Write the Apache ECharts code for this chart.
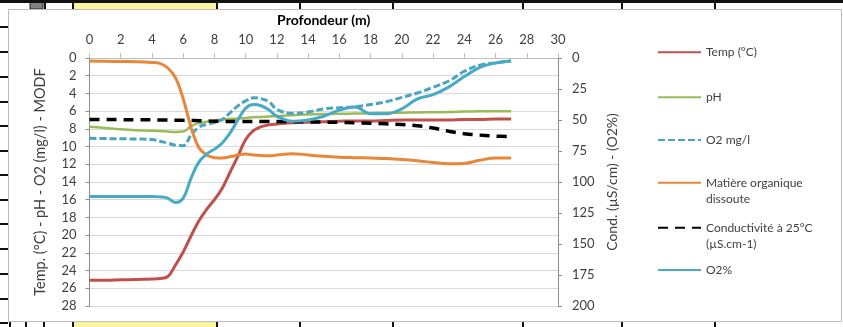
<!DOCTYPE html>
<html><head><meta charset="utf-8">
<script src="https://cdn.jsdelivr.net/npm/echarts@6/dist/echarts.min.js"></script>
<style>html,body{margin:0;padding:0;background:#fff}#c{width:843px;height:327px}</style>
</head><body><div id="c"></div>
<script>
// Depth (m) along the top axis
const depth = [0,1,2,3,4,4.5,5,5.5,6,6.5,7,7.5,8,8.5,9,9.5,10,10.5,11,11.5,12,13,14,15,16,17,18,19,20,21,22,23,24,25,26,27];
// Left axis series
const temp = [25.1,25.1,25.05,25.0,24.95,24.9,24.7,23.4,21.9,20.1,18.4,17.1,16.0,14.7,12.9,11.1,9.2,8.2,7.75,7.55,7.45,7.3,7.25,7.2,7.15,7.1,7.1,7.05,7.0,7.0,7.0,7.0,6.95,6.95,6.9,6.9];
const ph = [7.75,7.9,8.05,8.15,8.2,8.25,8.3,8.35,8.3,7.7,7.35,7.2,7.05,6.95,6.88,6.82,6.76,6.7,6.65,6.6,6.55,6.45,6.38,6.33,6.3,6.27,6.24,6.2,6.18,6.15,6.12,6.1,6.05,6.02,6.0,6.0];
const o2mg = [9.07,9.1,9.12,9.15,9.2,9.4,9.6,9.85,9.9,8.7,7.8,7.5,7.3,6.95,6.2,5.4,4.85,4.5,4.6,4.95,5.8,6.25,6.1,5.75,5.62,5.5,5.25,4.93,4.45,3.95,3.3,2.6,1.5,0.8,0.55,0.34];
const modf = [0.35,0.38,0.4,0.42,0.5,0.6,1.1,2.2,4.6,7.8,10.1,10.95,11.25,11.3,11.15,10.95,10.85,10.95,11.0,11.05,10.95,10.8,10.95,11.1,11.2,11.25,11.3,11.35,11.45,11.6,11.8,11.95,11.9,11.55,11.3,11.3];
// Right axis series
const cond = [49.5,49.6,49.7,49.8,49.9,50,50.1,50.2,50.3,50.4,50.6,50.8,51,51.1,51.2,51.3,51.3,51.3,51.3,51.3,51.3,51.4,51.5,51.7,51.9,52.2,52.6,53.1,53.7,54.6,56.5,59,61,62.2,63,63.5];
const o2pct = [111.6,111.6,111.6,111.6,111.6,112,113,116.5,113,97,84,77.5,73.5,68.5,60.5,50,40.5,37.5,38.5,42,47,51,50,47,42,39.5,45,45,41,33,29.5,23.5,15,7.5,4,2.4];

const names = ['Temp (°C)','pH','O2 mg/l','Matière organique\ndissoute','Conductivité à 25°C\n(µS.cm-1)','O2%'];
const FONT = 'Lato';
const TXT = '#404040';

function pts(v){ return depth.map((d,i)=>[d, v[i]]); }

const chart = echarts.init(document.getElementById('c'), null, {renderer:'canvas'});

const legendCenters = [52.3, 97.3, 140, 182.7, 227.7, 270];
const LH = 16.8;
const legends = names.map((n,i)=>{
  const twoLine = n.indexOf('\n') >= 0;
  return {
    data:[n], left:657, top: twoLine ? legendCenters[i] - LH*1.5 : legendCenters[i] - LH/2,
    orient:'vertical', padding:0, itemWidth:43, itemHeight:14, itemGap:0,
    selectedMode:false,
    itemStyle:{opacity:0},
    formatter: nm => nm.indexOf('\n') >= 0 ? ' \n' + nm : nm,
    textStyle:{fontFamily:FONT, fontSize:12, color:TXT, lineHeight:LH}
  };
});

const option = {
  animation:false,
  textStyle:{fontFamily:FONT},
  graphic:[
    // spreadsheet decorations around the chart object
    {type:'rect', shape:{x:73,y:0,width:144,height:9}, style:{fill:'#fbf59f'}, silent:true},
    {type:'rect', shape:{x:73,y:322,width:144,height:5}, style:{fill:'#fbf59f'}, silent:true},
    {type:'rect', shape:{x:30,y:0,width:13,height:9}, style:{fill:'#7f7f7f', stroke:'#222', lineWidth:1}, silent:true},
    {type:'line', shape:{x1:0,y1:1.5,x2:843,y2:1.5}, style:{stroke:'#111', lineWidth:3}, silent:true},
    ...[45,73,217,300,393,523,622,715].map(x=>({type:'line', shape:{x1:x,y1:0,x2:x,y2:9}, style:{stroke:'#111', lineWidth:2}, silent:true})),
    ...[10,26,44,73,217,300,393,523,622,715].map(x=>({type:'line', shape:{x1:x,y1:322,x2:x,y2:327}, style:{stroke:'#111', lineWidth:2}, silent:true})),
    ...[27,52,77,102,126,151,175,200,224,249,274,299,323].map(y=>({type:'line', shape:{x1:0,y1:y,x2:8,y2:y}, style:{stroke:'#111', lineWidth:2}, silent:true})),
    {type:'rect', shape:{x:8.5,y:9.5,width:833,height:312}, style:{fill:'none', stroke:'#bdbdbd', lineWidth:1}, silent:true}
  ],
  grid:{left:89.5, right:285, top:58, bottom:21, containLabel:false},
  legend: legends,
  xAxis:{
    type:'value', position:'top', min:0, max:30, interval:2,
    name:'Profondeur (m)', nameLocation:'middle', nameGap:31,
    nameTextStyle:{fontFamily:FONT, fontSize:14, fontWeight:'bold', color:'#000'},
    axisLine:{show:true, lineStyle:{color:'#bfbfbf', width:1}},
    axisTick:{show:true, length:5, lineStyle:{color:'#bfbfbf'}},
    axisLabel:{fontFamily:FONT, fontSize:13, color:TXT, margin:12},
    splitLine:{show:false}
  },
  yAxis:[
    {
      type:'value', inverse:true, min:0, max:28, interval:2,
      name:'Temp. (°C) - pH - O2 (mg/l) - MODF', nameLocation:'middle', nameGap:42, nameRotate:90,
      nameTextStyle:{fontFamily:FONT, fontSize:14.5, color:TXT},
      axisLine:{show:true, lineStyle:{color:'#8c8c8c', width:1}},
      axisTick:{show:true, length:4, lineStyle:{color:'#8c8c8c'}},
      axisLabel:{fontFamily:FONT, fontSize:13, color:TXT, margin:13},
      splitLine:{show:true, lineStyle:{color:'#d9d9d9', width:1}}
    },
    {
      type:'value', inverse:true, min:0, max:200, interval:25, position:'right',
      name:'Cond. (µS/cm) - (O2%)', nameLocation:'middle', nameGap:46, nameRotate:90,
      nameTextStyle:{fontFamily:FONT, fontSize:14, color:TXT},
      axisLine:{show:true, lineStyle:{color:'#8c8c8c', width:1}},
      axisTick:{show:true, length:4, lineStyle:{color:'#8c8c8c'}},
      axisLabel:{fontFamily:FONT, fontSize:13, color:TXT, margin:14},
      splitLine:{show:false}
    }
  ],
  series:[
    {name:names[0], type:'line', yAxisIndex:0, data:pts(temp), smooth:0.4, symbol:'none', color:'#c0504d', lineStyle:{width:3, color:'#c0504d'}},
    {name:names[1], type:'line', yAxisIndex:0, data:pts(ph), smooth:0.4, symbol:'none', color:'#9bbb59', lineStyle:{width:2.5, color:'#9bbb59'}},
    {name:names[2], type:'line', yAxisIndex:0, data:pts(o2mg), smooth:0.4, symbol:'none', color:'#4aa3c0', lineStyle:{width:3, color:'#4aa3c0', type:[7,3]}},
    {name:names[3], type:'line', yAxisIndex:0, data:pts(modf), smooth:0.4, symbol:'none', color:'#e8873a', lineStyle:{width:3, color:'#e8873a'}},
    {name:names[4], type:'line', yAxisIndex:1, data:pts(cond), smooth:0.4, symbol:'none', color:'#000', lineStyle:{width:3.5, color:'#000', type:[10,7]}},
    {name:names[5], type:'line', yAxisIndex:1, data:pts(o2pct), smooth:0.4, symbol:'none', color:'#46aac6', lineStyle:{width:3, color:'#46aac6'}}
  ]
};
chart.setOption(option);
</script></body></html>
